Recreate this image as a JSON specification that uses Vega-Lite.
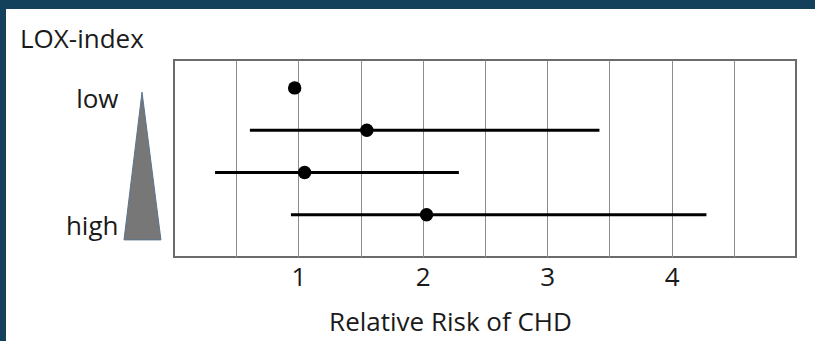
{
  "$schema": "https://vega.github.io/schema/vega-lite/v6.json",
  "background": "white",
  "padding": 0,
  "config": {"font": "Open Sans", "view": {"stroke": null}},
  "bounds": "flush",
  "spacing": 0,
  "hconcat": [
    {
      "width": 6, "height": 341,
      "view": {"fill": "#13405a", "stroke": null},
      "data": {"values": [{}]},
      "mark": {"type": "point", "opacity": 0},
      "encoding": {}
    },
    {
      "bounds": "flush",
      "spacing": 51,
      "vconcat": [
        {
          "width": 809, "height": 9,
          "view": {"fill": "#13405a", "stroke": null},
          "data": {"values": [{}]},
          "mark": {"type": "point", "opacity": 0},
          "encoding": {}
        },
        {
          "bounds": "flush",
          "spacing": 0,
          "hconcat": [
            {
              "width": 168, "height": 197,
              "data": {"values": [{}]},
              "mark": {"type": "point", "opacity": 0},
              "encoding": {}
            },
            {
              "width": 622, "height": 197,
              "view": {"stroke": "#6b6b6b", "strokeWidth": 2},
              "title": {"text": "LOX-index", "anchor": "start", "frame": "group", "dx": -154, "fontSize": 26, "fontWeight": "normal", "font": "Open Sans", "color": "#1a1a1a", "baseline": "alphabetic", "offset": -14},
              "data": {"values": [
                {"row": 1, "rr": 0.97, "lo": 0.97, "hi": 0.97},
                {"row": 2, "rr": 1.55, "lo": 0.61, "hi": 3.42},
                {"row": 3, "rr": 1.05, "lo": 0.33, "hi": 2.29},
                {"row": 4, "rr": 2.03, "lo": 0.94, "hi": 4.28}
              ]},
              "layer": [
                {
                  "mark": {"type": "rule", "strokeWidth": 3, "color": "black"},
                  "encoding": {
                    "x": {"field": "lo", "type": "quantitative",
                      "scale": {"domain": [0, 5], "nice": false, "zero": false},
                      "axis": {"title": "Relative Risk of CHD", "values": [0.5, 1, 1.5, 2, 2.5, 3, 3.5, 4, 4.5],
                        "labelExpr": "datum.value % 1 === 0 ? format(datum.value, 'd') : ''", "labelOverlap": false,
                        "grid": true, "gridColor": "#8c8c8c", "gridWidth": 1, "ticks": false, "domain": false,
                        "labelFontSize": 26, "labelColor": "#1a1a1a", "labelPadding": 7, "labelFont": "Open Sans",
                        "titleFontSize": 26, "titleFontWeight": "normal", "titleColor": "#1a1a1a", "titlePadding": 19, "titleFont": "Open Sans",
                        "titleX": 276, "titleAlign": "center"}},
                    "x2": {"field": "hi"},
                    "y": {"field": "row", "type": "quantitative",
                      "scale": {"domain": [0.34, 5], "reverse": true, "nice": false, "zero": false},
                      "axis": {"values": [1, 4], "labelExpr": "datum.value == 1 ? 'low' : 'high'", "title": null,
                        "grid": false, "ticks": false, "domain": false, "labelFontSize": 26, "labelPadding": 56,
                        "labelOffset": 12, "labelColor": "#1a1a1a", "labelFont": "Open Sans"}}
                  }
                },
                {
                  "mark": {"type": "point", "filled": true, "size": 180, "color": "black", "opacity": 1},
                  "encoding": {
                    "x": {"field": "rr", "type": "quantitative"},
                    "y": {"field": "row", "type": "quantitative"}
                  }
                },
                {
                  "data": {"values": [
                    {"tx": -0.402, "ty": 4.595, "tb": 4.595},
                    {"tx": -0.257, "ty": 1.10, "tb": 4.595},
                    {"tx": -0.105, "ty": 4.595, "tb": 4.595}
                  ]},
                  "mark": {"type": "area", "color": "#777777", "stroke": "#5a7590", "strokeWidth": 1, "opacity": 1, "clip": false},
                  "encoding": {
                    "x": {"field": "tx", "type": "quantitative"},
                    "y": {"field": "ty", "type": "quantitative"},
                    "y2": {"field": "tb"}
                  }
                }
              ]
            }
          ]
        }
      ]
    }
  ]
}
